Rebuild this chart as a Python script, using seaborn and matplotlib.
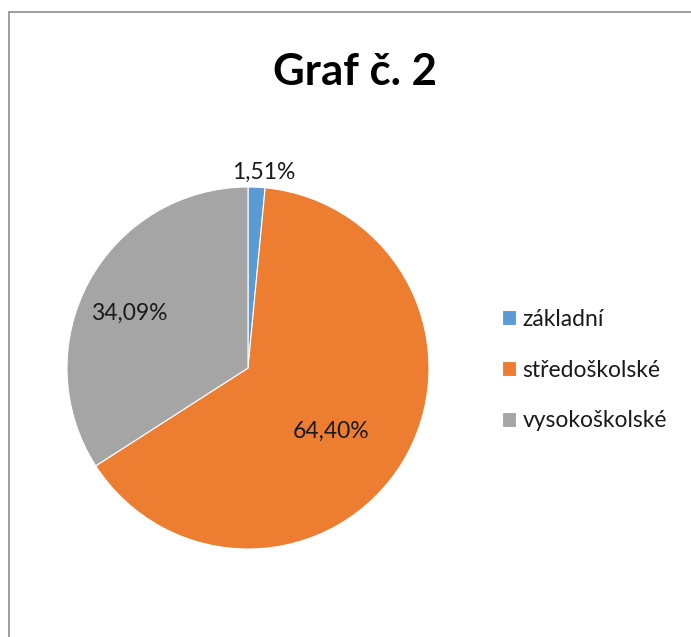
import numpy as np
import matplotlib
matplotlib.use('Agg')
import matplotlib.pyplot as plt
import seaborn as sns
from matplotlib.patches import Rectangle

# Data
categories = ['základní', 'středoškolské', 'vysokoškolské']
shares = [1.51, 64.40, 34.09]
colors = ['#5B9BD5', '#ED7D31', '#A5A5A5']

sns.set_theme(style='white')
plt.rcParams['font.family'] = ['Lato', 'DejaVu Sans']

fig = plt.figure(figsize=(6.91, 6.37), dpi=100)
fig.patch.set_facecolor('white')

# chart border (as in the original screenshot)
fig.add_artist(Rectangle((8.5 / 691, -0.1), 1.2, 1.1 - 11.5 / 637, transform=fig.transFigure,
                         fill=False, edgecolor='#8c8c8c', linewidth=1.2))

ax = fig.add_axes([67 / 691, 88 / 637, 362 / 691, 362 / 637])
wedges, _ = ax.pie(shares, colors=colors, startangle=90, counterclock=False,
                   wedgeprops=dict(edgecolor='white', linewidth=0.8))
ax.set_xlim(-1, 1)
ax.set_ylim(-1, 1)
ax.set_aspect('equal')
ax.axis('off')

# data labels, Excel "best fit" style
label_dist = [1.085, 0.58, 0.72]
angle_shift = [-2, -6, 4]
for w, v, d, s in zip(wedges, shares, label_dist, angle_shift):
    ang = np.deg2rad((w.theta1 + w.theta2) / 2 + s)
    ax.text(d * np.cos(ang), d * np.sin(ang), f'{v:.2f}%'.replace('.', ','),
            ha='center', va='center', fontsize=16.5, color='#1a1a1a')

fig.text(0.514, 0.887, 'Graf č. 2', ha='center', va='center',
         fontsize=31.5, fontweight='bold', color='black')

fig.legend(wedges, categories, loc='center left', bbox_to_anchor=(502 / 691, 0.419),
           frameon=False, fontsize=16.5, handlelength=0.62, handleheight=0.62,
           handletextpad=0.28, labelspacing=1.3, borderpad=0, borderaxespad=0,
           labelcolor='#1a1a1a')

fig.savefig('out.png', dpi=100)
